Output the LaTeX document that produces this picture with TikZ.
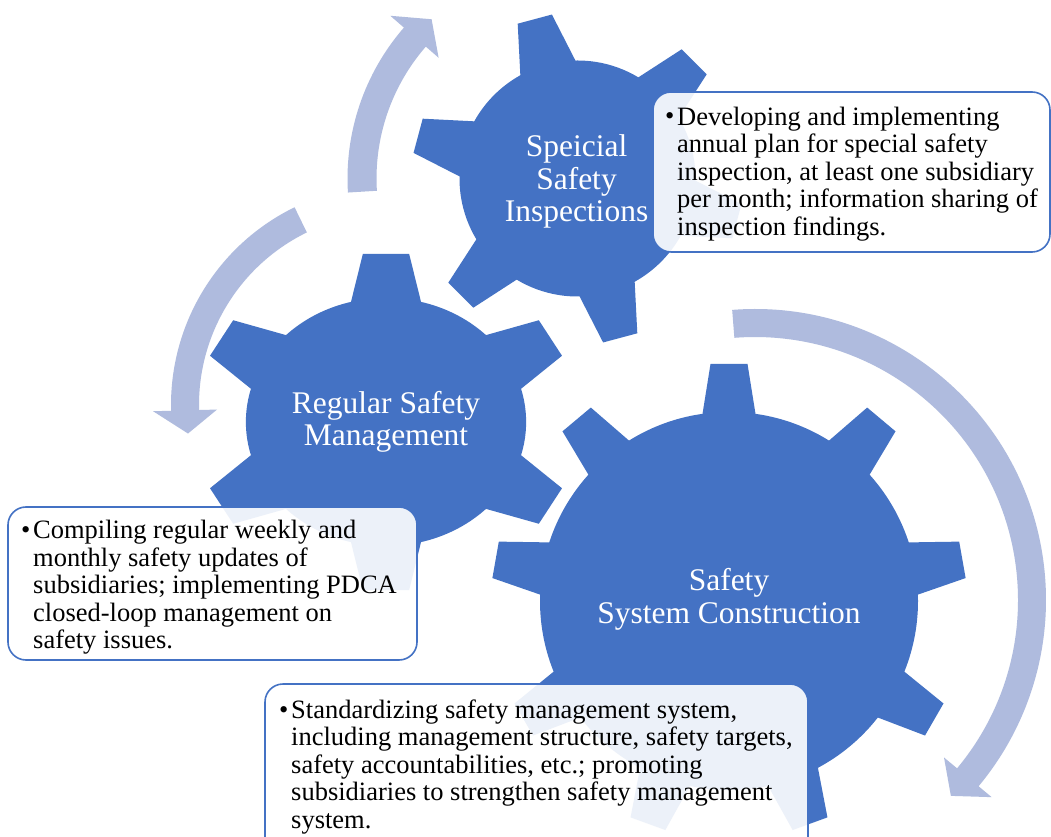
\documentclass[tikz,border=0pt]{standalone}
\usepackage{fontspec}
\setmainfont{Liberation Serif}
\definecolor{gearblue}{RGB}{68,114,196}
\definecolor{arrowblue}{RGB}{175,187,222}
\tikzset{
  geartext/.style={text=white, font=\fontsize{31.5}{32.5}\selectfont, align=center, inner sep=0pt},
  boxtext/.style={font=\fontsize{26.5}{27.5}\selectfont, align=left, inner sep=0pt, anchor=north west},
  boxbullet/.style={font=\fontsize{26.5}{27.5}\selectfont, inner sep=0pt, anchor=base west},
  infobox/.style={draw=gearblue, line width=1.6pt, fill=white, fill opacity=0.9, rounded corners=18pt},
  arrowshape/.style={fill=arrowblue},
}
% #1 centre, #2 xscale, #3 teeth, #4 first tooth angle, #5 body radius, #6 outer radius, #7 base half width, #8 tip half width
\newcommand\drawgear[8]{%
  \begin{scope}[shift={(#1)}, xscale=#2]
    \fill[gearblue] (0,0) circle[radius=#5];
    \foreach \k in {1,...,#3}{
      \fill[gearblue, rotate={#4+360/#3*(\k-1)}]
        ({0.6*#5},{-#7}) -- ({sqrt(#5-#7)*sqrt(#5+#7)},{-#7}) -- (#6,{-#8})
        -- (#6,#8) -- ({sqrt(#5-#7)*sqrt(#5+#7)},#7) -- ({0.6*#5},#7) -- cycle;
    }
  \end{scope}}
\begin{document}
\begin{tikzpicture}[x=1pt,y=1pt]
\clip (0,0) rectangle (1051,836);
\fill[white] (0,0) rectangle (1051,836);

% circular arrows
\begin{scope}[shift={(577.5,657.5)}]
  \fill[arrowshape] (183.5:230) arc[start angle=183.5, end angle=139, radius=230]
    -- (139:248) -- (132.5:216) -- (139:184) -- (139:201)
    arc[start angle=139, end angle=183.5, radius=201] -- cycle;
\end{scope}
\begin{scope}[shift={(391,431)}]
  \fill[arrowshape] (116:220) arc[start angle=116, end angle=181.5, radius=220]
    -- (181.5:238) -- (188:205) -- (181.5:174) -- (181.5:192)
    arc[start angle=181.5, end angle=116, radius=192] -- cycle;
\end{scope}
\begin{scope}[shift={(755,236)}]
  \fill[arrowshape] (94.5:291) arc[start angle=94.5, end angle=-39.8, radius=291]
    -- (-39.8:308) -- (-45:277) -- (-39.8:246) -- (-39.8:263)
    arc[start angle=-39.8, end angle=94.5, radius=263] -- cycle;
\end{scope}

% gears
\drawgear{577.5,657.5}{1}{6}{105}{118}{165}{28.5}{17.7}
\drawgear{386,414}{1.13}{6}{90}{124}{168}{31}{20.5}
\drawgear{729,235}{1}{9}{90}{189}{237}{26.5}{18.5}

\node[geartext] (g1) at (576.5,654.5) {Speicial\\Safety\\Inspections};
\node[geartext] (g2) at (386,414) {Regular Safety\\Management};
\node[geartext] (g3) at (729,236.5) {Safety\\System Construction};

% text boxes
\draw[infobox] (653,584) rectangle (1050,744);
\draw[infobox] (8,176) rectangle (417,329);
\draw[infobox] (265,-30) rectangle (808,152);

\node[boxbullet] (b1) at (665,711) {•};
\node[boxtext] (t1) at (677,731) {\rule{0pt}{20pt}Developing and implementing\\annual plan for special safety\\inspection, at least one subsidiary\\per month; information sharing of\\inspection findings.};
\node[boxbullet] (b2) at (21,297.7) {•};
\node[boxtext] (t2) at (33,317.7) {\rule{0pt}{20pt}Compiling regular weekly and\\monthly safety updates of\\subsidiaries; implementing PDCA\\closed-loop management on\\safety issues.};
\node[boxbullet] (b3) at (279,118) {•};
\node[boxtext] (t3) at (291,138) {\rule{0pt}{20pt}Standardizing safety management system,\\including management structure, safety targets,\\safety accountabilities, etc.; promoting\\subsidiaries to strengthen safety management\\system.};
\end{tikzpicture}
\end{document}
